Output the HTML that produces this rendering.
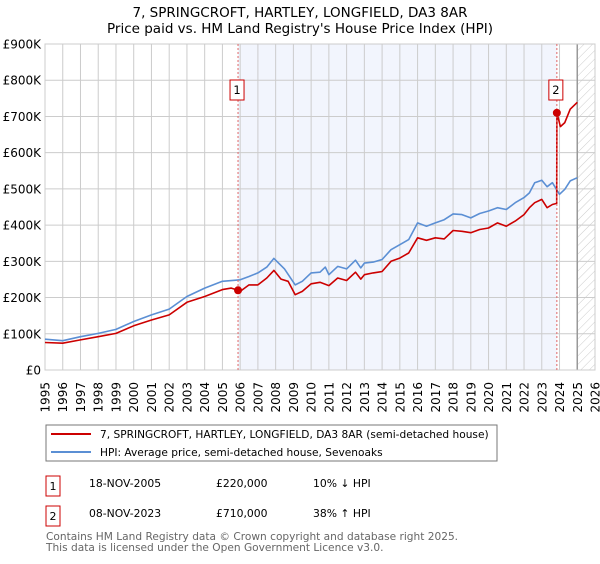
<!DOCTYPE html>
<html><head><meta charset="utf-8"><style>
body{margin:0;background:#fff;font-family:"DejaVu Sans","Liberation Sans",sans-serif;}
svg text{font-family:"DejaVu Sans","Liberation Sans",sans-serif;}
</style></head><body>
<svg id="chart" width="600" height="560" xmlns="http://www.w3.org/2000/svg">
<defs><pattern id="hatch" width="6" height="6" patternUnits="userSpaceOnUse" patternTransform="rotate(45)"><line x1="0" y1="0" x2="0" y2="6" stroke="#ccc" stroke-width="1"/></pattern></defs>
<text x="300" y="17" text-anchor="middle" font-size="13.5">7, SPRINGCROFT, HARTLEY, LONGFIELD, DA3 8AR</text>
<text x="300" y="33" text-anchor="middle" font-size="13.5">Price paid vs. HM Land Registry's House Price Index (HPI)</text>
<g id="grid"></g><g id="series"></g><g id="overlay"></g>
<rect x="46" y="425" width="451" height="36" fill="#fff" stroke="#777"/>
<line x1="51" y1="434" x2="91" y2="434" stroke="#cc0000" stroke-width="2"/>
<text x="100" y="438" font-size="10.6">7, SPRINGCROFT, HARTLEY, LONGFIELD, DA3 8AR (semi-detached house)</text>
<line x1="51" y1="452" x2="91" y2="452" stroke="#5b8fd4" stroke-width="2"/>
<text x="100" y="456" font-size="10.6">HPI: Average price, semi-detached house, Sevenoaks</text>
<g>
<rect x="46" y="476" width="14" height="20" fill="#fff" stroke="#cc0000"/><text x="53" y="490" text-anchor="middle" font-size="11">1</text>
<text x="89" y="487" font-size="10.8">18-NOV-2005</text><text x="216" y="487" font-size="10.8">£220,000</text><text x="313" y="487" font-size="10.8">10% ↓ HPI</text></g>
<g>
<rect x="46" y="506" width="14" height="20" fill="#fff" stroke="#cc0000"/><text x="53" y="520" text-anchor="middle" font-size="11">2</text>
<text x="89" y="517" font-size="10.8">08-NOV-2023</text><text x="216" y="517" font-size="10.8">£710,000</text><text x="313" y="517" font-size="10.8">38% ↑ HPI</text></g>
<text x="46" y="540" font-size="10.6" fill="#666">Contains HM Land Registry data © Crown copyright and database right 2025.</text>
<text x="46" y="551" font-size="10.6" fill="#666">This data is licensed under the Open Government Licence v3.0.</text>
</svg>
<script>
const hpiYears=[1995,1996,1997,1998,1999,2000,2001,2002,2003,2004,2005,2006,2006.5,2007,2007.5,2007.9,2008.5,2009.1,2009.5,2010,2010.5,2010.8,2011,2011.5,2012,2012.5,2012.8,2013,2013.5,2014,2014.5,2015,2015.5,2016,2016.5,2017,2017.5,2018,2018.5,2019,2019.5,2020,2020.5,2021,2021.5,2022,2022.3,2022.6,2023,2023.3,2023.6,2024,2024.3,2024.6,2025];
const hpiValues=[85,81,92,101,112,134,152,168,203,226,245,249,258,268,284,308,279,235,245,268,270,284,263,286,279,303,282,295,298,305,332,346,360,406,397,406,415,431,429,420,432,439,448,443,462,476,489,517,524,506,517,485,499,522,531];
const paidYears=[1995,1996,1997,1998,1999,2000,2001,2002,2003,2004,2005,2005.5,2005.88,2006,2006.5,2007,2007.5,2007.9,2008.3,2008.7,2009.1,2009.5,2010,2010.5,2011,2011.5,2012,2012.5,2012.8,2013,2013.5,2014,2014.5,2015,2015.5,2016,2016.5,2017,2017.5,2018,2018.5,2019,2019.5,2020,2020.5,2021,2021.5,2022,2022.3,2022.6,2023,2023.3,2023.6,2023.84,2023.85,2024.05,2024.3,2024.6,2025];
const paidValues=[76,74,83,92,101,122,138,152,187,203,222,226,220,217,235,235,254,275,251,245,208,217,238,242,233,254,247,270,251,263,268,272,300,309,323,365,358,365,362,385,383,379,388,392,406,397,411,429,448,462,471,448,457,460,710,672,683,720,739];
const saleYears=[2005.88,2023.85];
const saleValues=[220,710];
const saleLabels=["1","2"];
const yTicks=[0,100,200,300,400,500,600,700,800,900];
const yTickLabels=["£0","£100K","£200K","£300K","£400K","£500K","£600K","£700K","£800K","£900K"];
const xTicks=[1995,1996,1997,1998,1999,2000,2001,2002,2003,2004,2005,2006,2007,2008,2009,2010,2011,2012,2013,2014,2015,2016,2017,2018,2019,2020,2021,2022,2023,2024,2025,2026];

const NS="http://www.w3.org/2000/svg";
const X0=45,X1=595,Y0=370,Y1=44;
const xs=v=>X0+(v-1995)/(2026-1995)*(X1-X0);
const ys=v=>Y0-v/900*(Y0-Y1);
function mk(tag,attrs,parent){const e=document.createElementNS(NS,tag);for(const k in attrs)e.setAttribute(k,attrs[k]);parent.appendChild(e);return e;}
const grid=document.getElementById('grid'),ser=document.getElementById('series'),ov=document.getElementById('overlay');
const shade=mk('rect',{x:xs(saleYears[0]),y:Y1,width:xs(saleYears[1])-xs(saleYears[0]),height:Y0-Y1,fill:'#f2f5fd'},grid);


const hatch=mk('rect',{x:xs(2025),y:Y1,width:X1-xs(2025),height:Y0-Y1,fill:'url(#hatch)'},grid);


yTicks.forEach((t,i)=>{
 mk('line',{x1:X0,x2:X1,y1:ys(t),y2:ys(t),stroke:'#ccc'},grid);
 const tx=mk('text',{x:X0-4,y:ys(t)+4.5,'text-anchor':'end','font-size':'12'},grid);
 tx.textContent=yTickLabels[i];
 
 
});
xTicks.forEach(t=>{
 mk('line',{x1:xs(t),x2:xs(t),y1:Y1,y2:Y0,stroke:'#ccc'},grid);
 const tx=mk('text',{x:0,y:0,'text-anchor':'end','font-size':'12',transform:`translate(${xs(t)+4.5},${382}) rotate(-90)`},grid);
 tx.textContent=t;
 
 
});
mk('line',{x1:xs(2025),x2:xs(2025),y1:Y1,y2:Y0,stroke:'#999','stroke-width':1.5},grid);
mk('rect',{x:X0,y:Y1,width:X1-X0,height:Y0-Y1,fill:'none',stroke:'#ccc'},grid);
function path(xa,va,color,name){
 const d=xa.map((x,i)=>(i?'L':'M')+xs(x).toFixed(1)+','+ys(va[i]).toFixed(1)).join('');
 const p=mk('path',{d:d,fill:'none',stroke:color,'stroke-width':1.6,'stroke-linejoin':'round'},ser);
 
 
}
path(hpiYears,hpiValues,'#5b8fd4','hpi-line');
path(paidYears,paidValues,'#cc0000','price-paid-line');
saleYears.forEach((y,i)=>{
 const l=mk('line',{x1:xs(y),x2:xs(y),y1:Y1,y2:Y0,stroke:'#e06666','stroke-dasharray':'2,2'},ov);
 
 
 const c=mk('circle',{cx:xs(y),cy:ys(saleValues[i]),r:4,fill:'#cc0000'},ov);
 
 
 const b=mk('rect',{x:xs(y)-8,y:80,width:14,height:20,fill:'#fff',stroke:'#cc0000'},ov);
 
 
 const t=mk('text',{x:xs(y)-1,y:94,'text-anchor':'middle','font-size':'11.5'},ov);
 t.textContent=saleLabels[i];
 
 
});
</script>
</body></html>
